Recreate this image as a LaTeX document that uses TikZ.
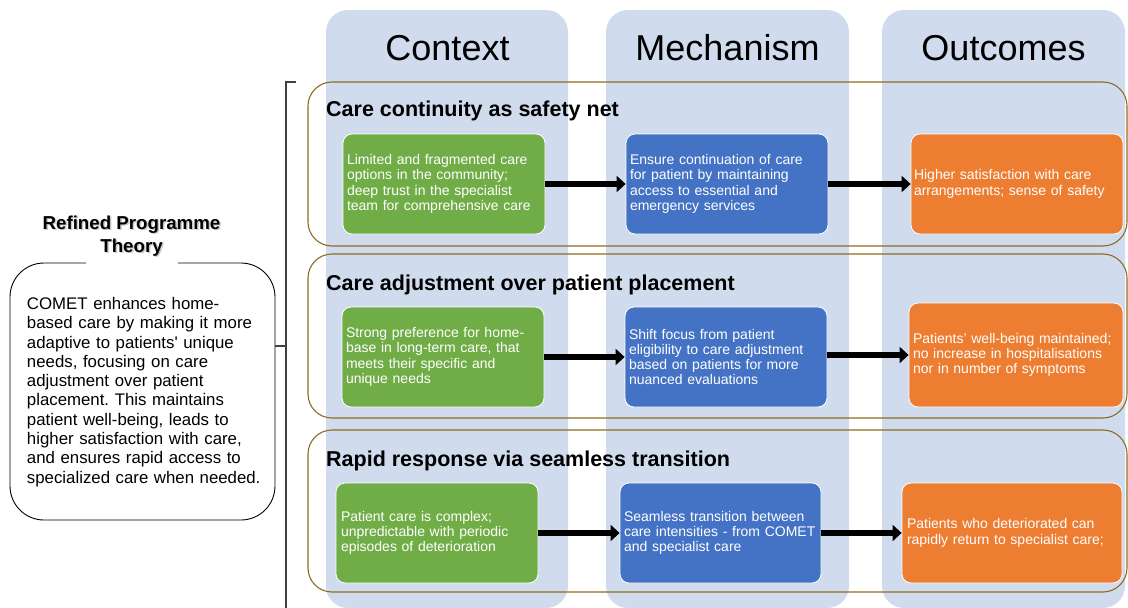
\documentclass[tikz,border=0pt]{standalone}
\usepackage{fontspec}
\setmainfont{Liberation Sans}
\usetikzlibrary{arrows.meta}
\definecolor{colbg}{HTML}{D0DCEE}
\definecolor{cgreen}{HTML}{70AD47}
\definecolor{cblue}{HTML}{4472C4}
\definecolor{corange}{HTML}{ED7D31}
\definecolor{panelc}{HTML}{8C6D1F}
\definecolor{brk}{HTML}{404040}
\frenchspacing
\begin{document}
\begin{tikzpicture}[x=1pt,y=-1pt,
  colbox/.style={fill=colbg, rounded corners=22pt},
  panel/.style={draw=panelc, line width=1.1pt, rounded corners=24pt},
  cmbox/.style={draw=white, line width=0.8pt, rounded corners=9pt, text=white,
    align=left, inner xsep=4pt, inner ysep=0pt, minimum height=100pt,
    font=\fontsize{14}{15.3}\selectfont},
  hdr/.style={anchor=base, font=\fontsize{36}{40}\selectfont},
  rowtitle/.style={anchor=base west, inner sep=0pt, font=\fontsize{21.5}{24}\selectfont\bfseries},
  arr/.style={-{Triangle[length=9pt,width=16pt]}, line width=6pt},
  bline/.style={draw=brk, line width=1.3pt}
]
\useasboundingbox (0,0) rectangle (1128,608);

% columns
\fill[colbox] (326,10) rectangle (568,608);
\fill[colbox] (606,10) rectangle (849,608);
\fill[colbox] (882,10) rectangle (1125,608);

\node[hdr] (hctx) at (447.5,60) {Context};
\node[hdr] (hmech) at (727.5,60) {Mechanism};
\node[hdr] (hout) at (1003.5,60) {Outcomes};

% row panels
\draw[panel] (308,82) rectangle (1127,246);
\draw[panel] (308,254) rectangle (1127,418);
\draw[panel] (308,430) rectangle (1127,592);

\node[rowtitle] (t1) at (326,116) {Care continuity as safety net};
\node[rowtitle] (t2) at (326,290) {Care adjustment over patient placement};
\node[rowtitle] (t3) at (326,466) {Rapid response via seamless transition};

% row 1
\node[cmbox, fill=cgreen, text width=194pt] (g1) at (444,184)
  {Limited and fragmented care\\options in the community;\\deep trust in the specialist\\team for comprehensive care};
\node[cmbox, fill=cblue, text width=194pt] (b1) at (727,184)
  {Ensure continuation of care\\for patient by maintaining\\access to essential and\\emergency services};
\node[cmbox, fill=corange, text width=206pt, inner xsep=3pt] (o1) at (1017,184)
  {Higher satisfaction with care\\arrangements; sense of safety};

% row 2
\node[cmbox, fill=cgreen, text width=194pt] (g2) at (443,357)
  {Strong preference for home-\\base in long-term care, that\\meets their specific and\\unique needs};
\node[cmbox, fill=cblue, text width=194pt] (b2) at (726,357)
  {Shift focus from patient\\eligibility to care adjustment\\based on patients for more\\nuanced evaluations};
\node[cmbox, fill=corange, text width=206pt, minimum height=104pt] (o2) at (1016,355)
  {Patients’ well-being maintained;\\no increase in hospitalisations\\nor in number of symptoms};

% row 3
\node[cmbox, fill=cgreen, text width=192pt, inner xsep=5pt] (g3) at (437,533)
  {Patient care is complex;\\unpredictable with periodic\\episodes of deterioration};
\node[cmbox, fill=cblue, text width=193pt] (b3) at (720.5,533)
  {Seamless transition between\\care intensities - from COMET\\and specialist care};
\node[cmbox, fill=corange, text width=210pt, inner xsep=5pt] (o3) at (1012,533)
  {Patients who deteriorated can\\rapidly return to specialist care;};

% arrows
\draw[arr] (g1.east) -- (b1.west);
\draw[arr] (b1.east) -- (o1.west);
\draw[arr] (g2.east) -- (b2.west);
\draw[arr] ([yshift=2pt]b2.east) -- ([yshift=2pt]b2.east -| o2.west);
\draw[arr] (g3.east) -- (b3.west);
\draw[arr] (b3.east) -- (o3.west);

% left programme theory box
\node[draw=black, line width=0.9pt, rounded corners=34pt, minimum width=265pt,
  minimum height=257pt, inner sep=0pt] (rpt) at (142.5,391.5) {};
\node[anchor=center, align=left, text width=236pt, inner sep=0pt,
  font=\fontsize{16.8}{19.3}\selectfont] (rpttext) at (145,392)
  {COMET enhances home-\\based care by making it more\\adaptive to patients\textquotesingle{} unique\\needs, focusing on care\\adjustment over patient\\placement. This maintains\\patient well-being, leads to\\higher satisfaction with care,\\and ensures rapid access to\\specialized care when needed.};
\fill[white] (86,258) rectangle (178,268);
\node[align=center, text=gray, opacity=0.45, inner sep=0pt,
  font=\fontsize{18.7}{23}\selectfont\bfseries] (rptshadow) at (133,237.5)
  {Refined Programme\\Theory};
\node[align=center, inner sep=0pt,
  font=\fontsize{18.7}{23}\selectfont\bfseries] (rpttitle) at (131.5,236)
  {Refined Programme\\Theory};

% bracket
\coordinate (bj) at (286,346);
\coordinate (btop) at (286,82);
\coordinate (btick) at (296,82);
\coordinate (bbot) at (286,608);
\draw[bline] (btick) -- (btop) -- (bbot);
\draw[bline] (rpt.east |- bj) -- (bj);
\end{tikzpicture}
\end{document}
